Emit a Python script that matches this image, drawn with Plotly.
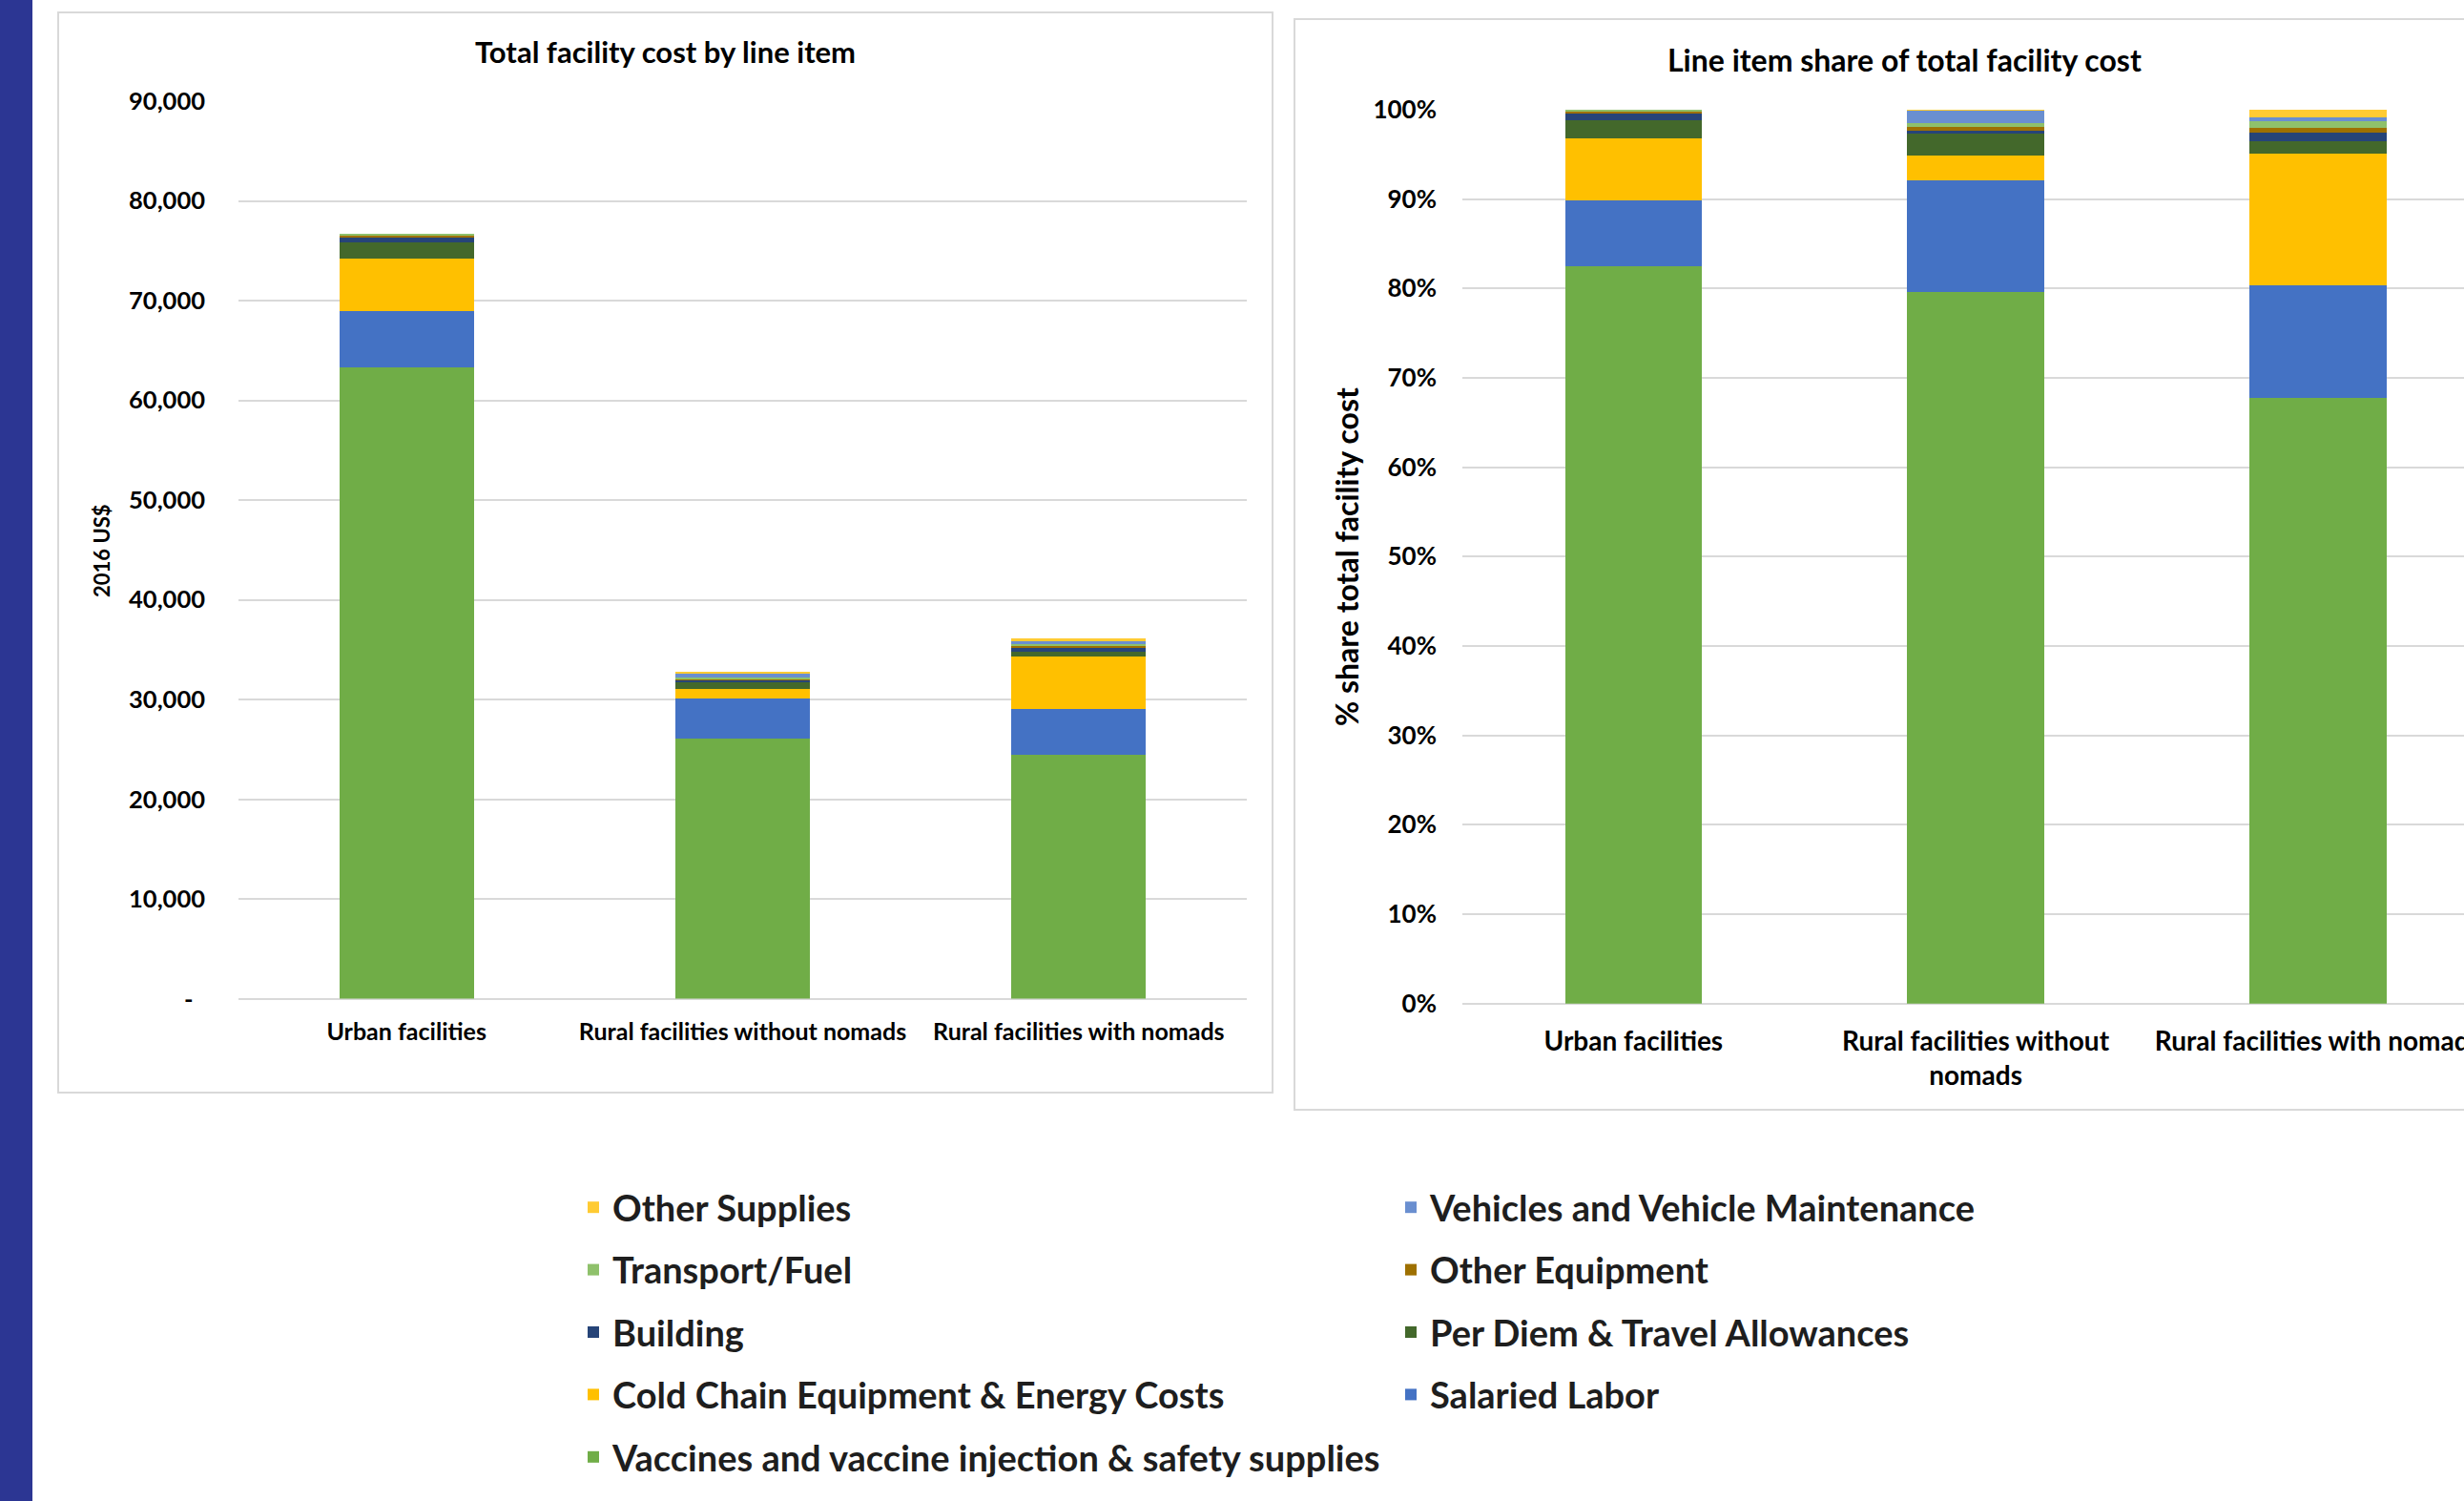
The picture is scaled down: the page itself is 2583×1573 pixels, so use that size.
import plotly.graph_objects as go

W, H = 2583, 1573

categories = ["Urban facilities", "Rural facilities without nomads", "Rural facilities with nomads"]
categories_right = ["Urban facilities", "Rural facilities without<br>nomads", "Rural facilities with nomads"]

# stacking order, bottom -> top (2016 US$)
vaccines      = [63270, 26040, 24470]
salaried      = [5650, 4090, 4540]
cold_chain    = [5290, 895, 5330]
per_diem      = [1590, 790, 490]
building      = [600, 128, 357]
other_equip   = [150, 137, 195]
transport     = [140, 131, 256]
vehicles      = [0, 464, 166]
other_supp    = [0, 23, 296]

series_names = [
    "Vaccines and vaccine injection & safety supplies",
    "Salaried Labor",
    "Cold Chain Equipment & Energy Costs",
    "Per Diem & Travel Allowances",
    "Building",
    "Other Equipment",
    "Transport/Fuel",
    "Vehicles and Vehicle Maintenance",
    "Other Supplies",
]
series_values = [vaccines, salaried, cold_chain, per_diem, building,
                 other_equip, transport, vehicles, other_supp]
series_colors = ["#70AD47", "#4472C4", "#FFC000", "#43682B", "#264478",
                 "#9E7000", "#8FC16B", "#6A8FD0", "#FFCB33"]
# legend column: left column / right column
legend_cols = ["legend", "legend2", "legend", "legend2", "legend",
               "legend2", "legend", "legend2", "legend"]

left_tickvals = [0, 10000, 20000, 30000, 40000, 50000, 60000, 70000, 80000, 90000]
left_ticktext = ["-\u00a0\u00a0", "10,000", "20,000", "30,000", "40,000", "50,000",
                 "60,000", "70,000", "80,000", "90,000"]
right_tickvals = [0, 10, 20, 30, 40, 50, 60, 70, 80, 90, 100]
right_ticktext = ["0%", "10%", "20%", "30%", "40%", "50%", "60%", "70%", "80%", "90%", "100%"]

totals = [sum(s[i] for s in series_values) for i in range(len(categories))]

FONT = "Lato"
fig = go.Figure()

n = len(series_names)
for i, (name, vals, col, lg) in enumerate(zip(series_names, series_values, series_colors, legend_cols)):
    fig.add_trace(go.Bar(
        x=categories, y=vals, name=name, marker=dict(color=col, line=dict(width=0)),
        xaxis="x", yaxis="y", legend=lg, legendgroup=name, legendrank=n - i,
        showlegend=True))
for name, vals, col in zip(series_names, series_values, series_colors):
    pct = [v / t * 100 for v, t in zip(vals, totals)]
    fig.add_trace(go.Bar(
        x=categories_right, y=pct, name=name, marker=dict(color=col, line=dict(width=0)),
        xaxis="x2", yaxis="y2", legendgroup=name, showlegend=False))

def px_x(p):
    return p / W

def px_y(p):
    return 1 - p / H

grid = "#D9D9D9"
legend_font = dict(family=FONT, size=38, color="#1E1E1E", weight="bold")
fig.update_layout(
    template="none",
    width=W, height=H, autosize=False,
    margin=dict(l=0, r=0, t=0, b=0, pad=0, autoexpand=False),
    paper_bgcolor="white", plot_bgcolor="white",
    barmode="stack", bargap=0.6,
    font=dict(family=FONT, color="#000000"),
    xaxis=dict(domain=[px_x(250), px_x(1307)], range=[-0.5, 2.5], anchor="y",
               automargin=False, showgrid=False, showline=False, ticks="",
               tickfont=dict(family=FONT, size=25, color="#000000", weight="bold"),
               ticklabelstandoff=17),
    yaxis=dict(domain=[px_y(1046.6), px_y(106)], range=[0, 90000], anchor="x",
               automargin=False, tickvals=left_tickvals, ticktext=left_ticktext,
               showgrid=True, gridcolor=grid, gridwidth=2, zeroline=True,
               zerolinecolor=grid, zerolinewidth=2, showline=False, ticks="",
               tickfont=dict(family=FONT, size=25.5, color="#000000", weight="bold"),
               ticklabelstandoff=34),
    xaxis2=dict(domain=[px_x(1533), 1.0], range=[-0.5, 2.427], anchor="y2",
                automargin=False, showgrid=False, showline=False, ticks="",
                tickfont=dict(family=FONT, size=28, color="#000000", weight="bold"),
                ticklabelstandoff=20),
    yaxis2=dict(domain=[px_y(1051.7), px_y(115)], range=[0, 100], anchor="x2",
                automargin=False, tickvals=right_tickvals, ticktext=right_ticktext,
                showgrid=True, gridcolor=grid, gridwidth=2, zeroline=True,
                zerolinecolor=grid, zerolinewidth=2, showline=False, ticks="",
                tickfont=dict(family=FONT, size=26, color="#000000", weight="bold"),
                ticklabelstandoff=26),
    legend=dict(x=px_x(602), y=px_y(1234), xanchor="left", yanchor="top",
                orientation="v", traceorder="grouped", tracegroupgap=13,
                font=legend_font, bgcolor="rgba(0,0,0,0)", itemwidth=30,
                itemclick=False),
    legend2=dict(x=px_x(1459), y=px_y(1234), xanchor="left", yanchor="top",
                 orientation="v", traceorder="grouped", tracegroupgap=13,
                 font=legend_font, bgcolor="rgba(0,0,0,0)", itemwidth=30,
                 itemclick=False),
    shapes=[
        dict(type="rect", xref="paper", yref="paper", x0=0, x1=px_x(34), y0=0, y1=1,
             fillcolor="#2C3693", line=dict(width=0), layer="below"),
        dict(type="rect", xref="paper", yref="paper", x0=px_x(61), x1=px_x(1334),
             y0=px_y(1145), y1=px_y(13), line=dict(color="#D9D9D9", width=2),
             fillcolor="rgba(0,0,0,0)", layer="below"),
        dict(type="rect", xref="paper", yref="paper", x0=px_x(1357), x1=px_x(2640),
             y0=px_y(1163), y1=px_y(20), line=dict(color="#D9D9D9", width=2),
             fillcolor="rgba(0,0,0,0)", layer="below"),
    ],
    annotations=[
        dict(text="Total facility cost by line item", xref="paper", yref="paper",
             x=px_x(697), y=px_y(54), xanchor="center", yanchor="middle", showarrow=False,
             font=dict(family=FONT, size=31, color="#000000", weight="bold")),
        dict(text="Line item share of total facility cost", xref="paper", yref="paper",
             x=px_x(1996), y=px_y(62), xanchor="center", yanchor="middle", showarrow=False,
             font=dict(family=FONT, size=32, color="#000000", weight="bold")),
        dict(text="2016 US$", xref="paper", yref="paper", textangle=-90,
             x=px_x(107), y=px_y(577), xanchor="center", yanchor="middle", showarrow=False,
             font=dict(family=FONT, size=22, color="#000000", weight="bold")),
        dict(text="% share total facility cost", xref="paper", yref="paper", textangle=-90,
             x=px_x(1411), y=px_y(584), xanchor="center", yanchor="middle", showarrow=False,
             font=dict(family=FONT, size=32, color="#000000", weight="bold")),
    ],
)

post = (
    "document.body.style.margin='0px';"
    "document.body.style.padding='0px';"
    "var gd=document.getElementById('{plot_id}');"
    "gd.style.position='fixed';gd.style.left='0px';gd.style.top='0px';"
)
fig.write_html("out.html", post_script=post, config={"displayModeBar": False})
